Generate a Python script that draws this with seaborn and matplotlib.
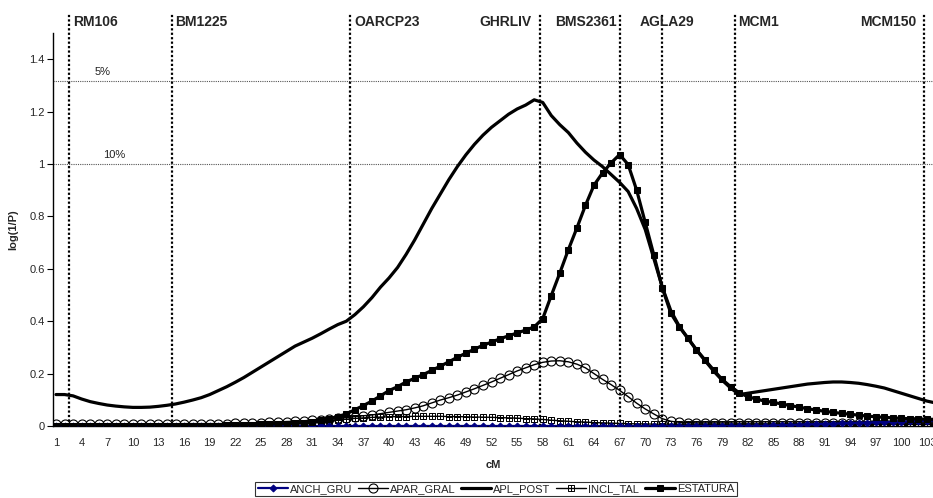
import matplotlib
matplotlib.use("Agg")
import matplotlib.pyplot as plt
from matplotlib.path import Path
from matplotlib.ticker import FuncFormatter
import numpy as np
import seaborn as sns

sns.set_style("white")
plt.rcParams["font.family"] = ["Liberation Sans", "DejaVu Sans"]

# posiciones (cM)
cm = np.arange(1, 105)

anch_gru = [0.0] * 84 + [0.002, 0.003, 0.004, 0.005, 0.006, 0.007, 0.008, 0.009, 0.010, 0.011,
                         0.012, 0.013, 0.014, 0.015, 0.016, 0.017, 0.018, 0.019, 0.020, 0.021]

apar_gral = ([0.008] * 15 + [0.009] * 6 +
             [0.010, 0.011, 0.012, 0.013, 0.014, 0.015, 0.017, 0.018, 0.020,
              0.022, 0.024, 0.027, 0.029, 0.032, 0.036, 0.039, 0.042, 0.047, 0.052,
              0.057, 0.062, 0.069, 0.077, 0.088, 0.099, 0.108, 0.118, 0.130, 0.142,
              0.155, 0.168, 0.182, 0.196, 0.210, 0.222, 0.234, 0.243, 0.248, 0.249,
              0.245, 0.236, 0.222, 0.200, 0.178, 0.158, 0.136, 0.112, 0.087, 0.065,
              0.046, 0.028, 0.018, 0.014, 0.013, 0.012, 0.012, 0.012, 0.012, 0.012] +
             [0.011] * 24)

apl_post = [0.120, 0.120, 0.115, 0.103, 0.093, 0.086, 0.080, 0.076, 0.073, 0.071,
            0.071, 0.072, 0.075, 0.079, 0.084, 0.091, 0.099, 0.108, 0.120, 0.135,
            0.150, 0.167, 0.185, 0.205, 0.225, 0.245, 0.265, 0.285, 0.305, 0.320,
            0.335, 0.352, 0.370, 0.387, 0.400, 0.425, 0.455, 0.490, 0.530, 0.565,
            0.605, 0.655, 0.710, 0.770, 0.830, 0.885, 0.940, 0.990, 1.035, 1.075,
            1.110, 1.140, 1.165, 1.190, 1.210, 1.225, 1.245, 1.235, 1.185, 1.150,
            1.120, 1.080, 1.045, 1.015, 0.990, 0.960, 0.930, 0.895, 0.830, 0.750,
            0.640, 0.530, 0.440, 0.380, 0.335, 0.290, 0.250, 0.210, 0.175, 0.145,
            0.120, 0.125, 0.130, 0.135, 0.140, 0.145, 0.150, 0.155, 0.160, 0.163,
            0.166, 0.168, 0.168, 0.166, 0.163, 0.158, 0.152, 0.145, 0.135, 0.125,
            0.115, 0.105, 0.095, 0.088]

incl_tal = ([0.001] * 20 +
            [0.002, 0.003, 0.004, 0.005, 0.006, 0.007, 0.008, 0.009, 0.010, 0.012,
             0.014, 0.017, 0.020, 0.023, 0.026, 0.029, 0.031, 0.033, 0.034, 0.035,
             0.036, 0.036, 0.037, 0.037, 0.037, 0.037, 0.036, 0.036, 0.035, 0.034,
             0.034, 0.033, 0.032, 0.031, 0.030, 0.028, 0.027, 0.025, 0.022, 0.020,
             0.018, 0.016, 0.015, 0.013, 0.012, 0.011, 0.010, 0.009, 0.008, 0.008] +
            [0.007] * 14 + [0.006] * 20)

estatura = ([0.0] * 15 + [0.001] * 5 +
            [0.002, 0.003, 0.004, 0.005, 0.006, 0.007, 0.008, 0.009, 0.011, 0.013,
             0.016, 0.021, 0.028, 0.036, 0.046, 0.062, 0.078, 0.095, 0.115, 0.135,
             0.150, 0.168, 0.182, 0.196, 0.212, 0.228, 0.245, 0.262, 0.278, 0.293,
             0.308, 0.320, 0.333, 0.344, 0.355, 0.366, 0.378, 0.410, 0.498, 0.584,
             0.673, 0.756, 0.842, 0.919, 0.966, 1.004, 1.036, 0.998, 0.900, 0.777,
             0.654, 0.527, 0.430, 0.378, 0.335, 0.291, 0.252, 0.214, 0.178, 0.150,
             0.127, 0.112, 0.103, 0.095, 0.090, 0.084, 0.078, 0.072, 0.066, 0.061,
             0.056, 0.052, 0.048, 0.045, 0.041, 0.038, 0.035, 0.033, 0.031, 0.029,
             0.028, 0.027, 0.026, 0.025])

# marcadores y umbrales
marcadores = ["RM106", "BM1225", "OARCP23", "GHRLIV", "BMS2361", "AGLA29", "MCM1", "MCM150"]
pos_marcadores = [2.5, 14.6, 35.4, 57.7, 67.0, 72.0, 80.5, 102.6]
pos_etiquetas = [3.0, 14.9, 36.0, 56.7, 66.7, 69.4, 80.9, 101.8]
lado_etiquetas = ["left", "left", "left", "right", "right", "left", "left", "right"]
umbrales = [1.315, 1.0]
umbral_txt = ["5%", "10%"]
umbral_txt_x = [6.4, 7.8]

# cuadrado con cruz para INCL_TAL
sq_cross = Path([(-1, -1), (1, -1), (1, 1), (-1, 1), (-1, -1), (0, -1), (0, 1), (-1, 0), (1, 0)],
                [Path.MOVETO, Path.LINETO, Path.LINETO, Path.LINETO, Path.CLOSEPOLY,
                 Path.MOVETO, Path.LINETO, Path.MOVETO, Path.LINETO])

fig = plt.figure(figsize=(9.33, 4.98), dpi=100)
ax = fig.add_axes([0.0568, 0.1446, 0.9432, 0.7891])

sns.lineplot(x=cm, y=anch_gru, ax=ax, color="#000080", lw=1.6, marker="D", ms=3.5,
             mec="#000080", mfc="#000080", label="ANCH_GRU", zorder=4.5)
sns.lineplot(x=cm, y=apar_gral, ax=ax, color="black", lw=1.0, marker="o", ms=6.5,
             mec="black", mfc="none", mew=0.8, label="APAR_GRAL", zorder=4)
sns.lineplot(x=cm, y=apl_post, ax=ax, color="black", lw=2.3, label="APL_POST", zorder=5)
sns.lineplot(x=cm, y=incl_tal, ax=ax, color="black", lw=1.0, marker=sq_cross, ms=4.5,
             mec="black", mfc="none", mew=0.7, label="INCL_TAL", zorder=4)
sns.lineplot(x=cm, y=estatura, ax=ax, color="black", lw=2.3, marker="s", ms=4.5,
             mec="black", mfc="black", label="ESTATURA", zorder=6)

for y, t, tx in zip(umbrales, umbral_txt, umbral_txt_x):
    ax.axhline(y, color="#555555", lw=0.8, ls=(0, (1, 1)), zorder=1)
    ax.text(tx, y + 0.035, t, fontsize=8, ha="center", va="center", color="#222222")

for m, px, tx, ha in zip(marcadores, pos_marcadores, pos_etiquetas, lado_etiquetas):
    ax.plot([px, px], [0, 1.576], color="black", lw=1.6, ls=(0, (1, 1)), clip_on=False, zorder=2)
    ax.text(tx, 1.541, m, fontsize=10, fontweight="bold", ha=ha, va="center", clip_on=False)

ax.set_xlim(0.65, 103.7)
ax.set_ylim(0, 1.5)
ax.set_xticks(np.arange(1, 104, 3))
ax.set_yticks(np.arange(0, 1.41, 0.2))
ax.yaxis.set_major_formatter(FuncFormatter(lambda v, _: f"{v:g}"))
ax.tick_params(axis="y", length=4, width=0.8, labelsize=8, pad=2, left=True, color="black")
ax.tick_params(axis="x", length=0, labelsize=8, pad=9)
sns.despine(ax=ax, top=True, right=True)
ax.spines["left"].set_color("black")
ax.spines["bottom"].set_color("black")
ax.spines["left"].set_linewidth(1.0)
ax.spines["bottom"].set_linewidth(1.0)

ax.set_xlabel("cM", fontsize=8, fontweight="bold", labelpad=8)
ax.set_ylabel("log(1/P)", fontsize=8, fontweight="bold", labelpad=8)

ax.legend(loc="upper center", bbox_to_anchor=(496 / 933, 1 - 482 / 498),
          bbox_transform=fig.transFigure, ncol=5, fontsize=8, frameon=True,
          fancybox=False, edgecolor="black", handlelength=2.7, columnspacing=0.5,
          handletextpad=0.2, borderpad=0.2, borderaxespad=0)
ax.get_legend().get_frame().set_linewidth(0.8)

fig.savefig("out.png", dpi=100)
